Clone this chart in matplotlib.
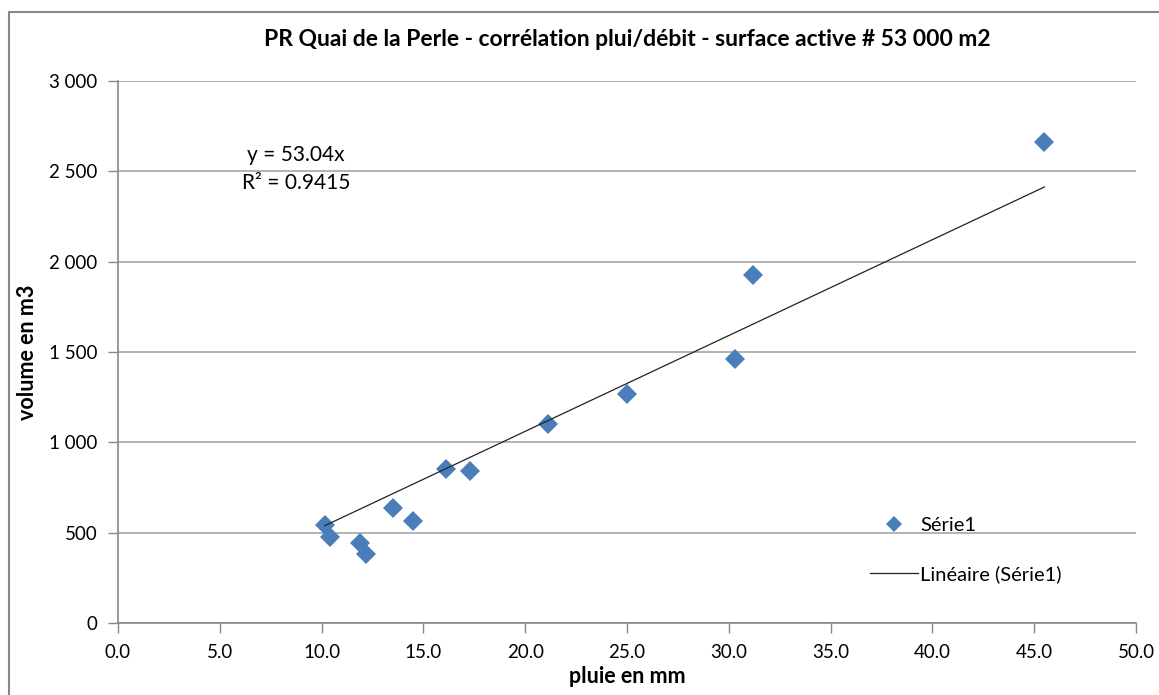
import matplotlib.pyplot as plt
import matplotlib.ticker as mticker
from matplotlib.lines import Line2D
from matplotlib.patches import Rectangle
import numpy as np

# rainfall (mm) vs volume (m3)
pluie = [10.15, 10.4, 11.9, 12.2, 13.5, 14.5, 16.1, 17.3, 21.1, 25.0, 30.3, 31.2, 45.5]
volume = [542, 476, 441, 382, 635, 566, 852, 841, 1101, 1267, 1461, 1926, 2664]

slope = 53.04
r2 = 0.9415

x_ticks = [0, 5, 10, 15, 20, 25, 30, 35, 40, 45, 50]
y_ticks = [0, 500, 1000, 1500, 2000, 2500, 3000]

plt.rcParams['font.family'] = ['Lato', 'DejaVu Sans']

fig = plt.figure(figsize=(11.59, 6.95), dpi=100)
ax = fig.add_axes([118 / 1159, 1 - 623 / 695, (1136 - 118) / 1159, (623 - 81) / 695])

# outer chart frame
fig.patches.append(Rectangle((9 / 1159, -0.05), 1.2, 1 - 12 / 695 + 0.05,
                             transform=fig.transFigure, fill=False,
                             edgecolor='#888888', linewidth=1.5))

color = '#4a7ebb'
ax.plot(pluie, volume, linestyle='none', marker='D', markersize=10,
        color=color, markeredgewidth=0, zorder=3)

xs = np.array([min(pluie), max(pluie)])
ax.plot(xs, slope * xs, color='#222222', linewidth=0.9, zorder=4)

ax.set_xlim(0, 50)
ax.set_ylim(0, 3000)
ax.set_xticks(x_ticks)
ax.set_yticks(y_ticks)
ax.xaxis.set_major_formatter(mticker.FormatStrFormatter('%.1f'))
ax.yaxis.set_major_formatter(mticker.FuncFormatter(lambda v, p: f'{int(v):,}'.replace(',', ' ')))
ax.tick_params(axis='both', labelsize=13.5, colors='#888888', labelcolor='black',
               direction='out', length=7, width=1)
ax.tick_params(axis='x', pad=8)
ax.tick_params(axis='y', pad=8)

ax.grid(axis='y', color='#a6a6a6', linewidth=1.2)
ax.set_axisbelow(True)
for s in ['top', 'right']:
    ax.spines[s].set_visible(False)
for s in ['left', 'bottom']:
    ax.spines[s].set_color('#888888')
    ax.spines[s].set_linewidth(1.2)

ax.set_xlabel('pluie en mm', fontsize=15.5, fontweight='bold', labelpad=4)
ax.set_ylabel('volume en m3', fontsize=15.5, fontweight='bold', labelpad=8)
fig.text(627 / 1159, 1 - 40 / 695,
         'PR Quai de la Perle - corrélation plui/débit - surface active # 53 000 m2',
         ha='center', va='center', fontsize=16.5, fontweight='bold')

fig.text(296 / 1159, 1 - 155 / 695, f'y = {slope:.2f}x', ha='center', va='center', fontsize=15)
fig.text(296 / 1159, 1 - 183 / 695, f'R² = {r2}', ha='center', va='center', fontsize=15)

handles = [Line2D([], [], linestyle='none', marker='D', markersize=8.5, color=color, markeredgewidth=0),
           Line2D([], [], color='#222222', linewidth=0.9)]
ax.legend(handles, ['Série1', 'Linéaire (Série1)'], loc='center left',
          bbox_to_anchor=(852 / 1159, 1 - 550 / 695), bbox_transform=fig.transFigure,
          frameon=False, fontsize=14.5, labelspacing=1.55, handlelength=2.4,
          handletextpad=0.1)

fig.savefig('out.png', dpi=100)
